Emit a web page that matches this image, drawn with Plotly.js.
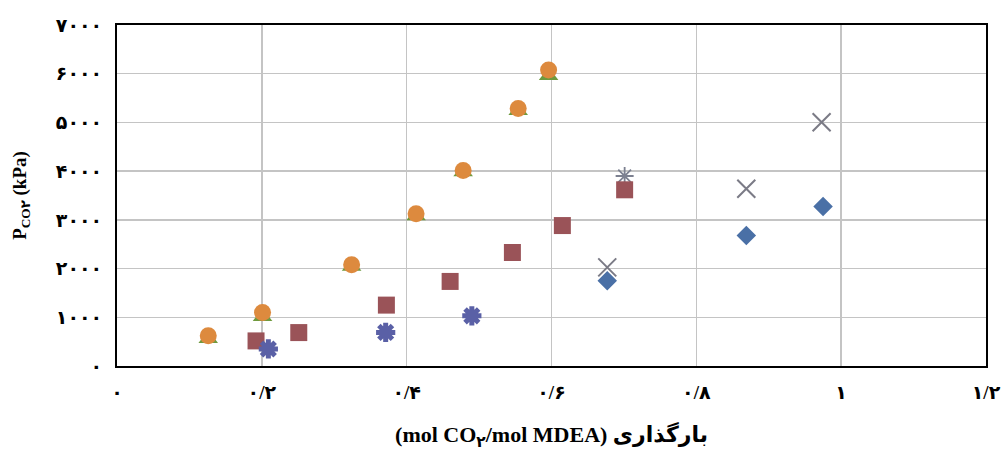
<!DOCTYPE html>
<html>
<head>
<meta charset="utf-8">
<script src="https://cdn.plot.ly/plotly-3.0.1.min.js"></script>
<style>html,body{margin:0;padding:0;background:#fff;}#chart{width:1003px;height:452px;}</style>
</head>
<body>
<div id="chart"></div>
<script>
// Data
const triX = [0.126, 0.201, 0.324, 0.413, 0.478, 0.554, 0.596];
const triY = [560, 1010, 2040, 3080, 3980, 5240, 5960];
const circX = [0.126, 0.201, 0.324, 0.413, 0.478, 0.554, 0.596];
const circY = [620, 1100, 2080, 3124, 4015, 5285, 6074];
const thinStarX = [0.701];
const thinStarY = [3900];
const sqX = [0.192, 0.251, 0.372, 0.460, 0.546, 0.615, 0.701];
const sqY = [515, 686, 1250, 1736, 2330, 2883, 3617];
const starX = [0.209, 0.371, 0.490];
const starY = [350, 690, 1030];
const crossX = [0.677, 0.869, 0.973];
const crossY = [2024, 3638, 5003];
const diaX = [0.677, 0.869, 0.975];
const diaY = [1750, 2677, 3274];

const xTickVals = [0, 0.2, 0.4, 0.6, 0.8, 1, 1.2];
const xTickText = ['۰', '۰/۲', '۰/۴', '۰/۶', '۰/۸', '۱', '۱/۲'];
const yTickVals = [0, 1000, 2000, 3000, 4000, 5000, 6000, 7000];
const yTickText = ['۰', '۱۰۰۰', '۲۰۰۰', '۳۰۰۰', '۴۰۰۰', '۵۰۰۰', '۶۰۰۰', '۷۰۰۰'];

const FONT = 'Liberation Serif, Times New Roman, DejaVu Sans, serif';

const traces = [
  {x: triX, y: triY, mode: 'markers', type: 'scatter',
   marker: {symbol: 'triangle-up', size: 17, color: '#6f9a3e'}},
  {x: circX, y: circY, mode: 'markers', type: 'scatter',
   marker: {symbol: 'circle', size: 17, color: '#dd8a3e'}},
  {x: thinStarX, y: thinStarY, mode: 'markers', type: 'scatter',
   marker: {symbol: 'asterisk-open', size: 15, color: '#7c8090', line: {color: '#7c8090', width: 1.8}}},
  {x: crossX, y: crossY, mode: 'markers', type: 'scatter',
   marker: {symbol: 'x-thin-open', size: 18, color: '#7b7b86', line: {color: '#7b7b86', width: 2}}},
  {x: sqX, y: sqY, mode: 'markers', type: 'scatter',
   marker: {symbol: 'square', size: 17, color: '#9a5358'}},
  {x: starX, y: starY, mode: 'markers', type: 'scatter',
   marker: {symbol: 'asterisk-open', size: 16, color: '#5a60a6', line: {color: '#5a60a6', width: 5}}},
  {x: diaX, y: diaY, mode: 'markers', type: 'scatter',
   marker: {symbol: 'diamond', size: 15, color: '#4a70a6'}}
];

const layout = {
  width: 1003, height: 452,
  margin: {l: 117, r: 17, t: 25, b: 86},
  paper_bgcolor: '#ffffff', plot_bgcolor: '#ffffff',
  showlegend: false,
  font: {family: FONT, color: '#000000'},
  xaxis: {
    range: [0, 1.2], tickvals: xTickVals, ticktext: xTickText,
    showgrid: true, gridcolor: '#c4c4c4', gridwidth: 1.5, zeroline: false,
    showline: true, linecolor: '#000000', linewidth: 2, mirror: true,
    ticks: '', ticklabelstandoff: 8,
    tickfont: {family: FONT, size: 19, weight: 'bold', color: '#000'},
    title: {text: '(mol CO<sub>۲</sub>/mol MDEA)\u200E بارگذاری', standoff: 25,
            font: {family: FONT, size: 22, weight: 'bold', color: '#000'}}
  },
  yaxis: {
    range: [0, 7000], tickvals: yTickVals, ticktext: yTickText,
    showgrid: true, gridcolor: '#c4c4c4', gridwidth: 1.5, zeroline: false,
    showline: true, linecolor: '#000000', linewidth: 2, mirror: true,
    ticks: '', ticklabelstandoff: 9,
    tickfont: {family: FONT, size: 19, weight: 'bold', color: '#000'},
    title: {text: 'P<sub>CO۲</sub> (kPa)', standoff: 24,
            font: {family: FONT, size: 19, weight: 'bold', color: '#000'}}
  }
};

Plotly.newPlot('chart', traces, layout, {displayModeBar: false, staticPlot: true});
</script>
</body>
</html>
